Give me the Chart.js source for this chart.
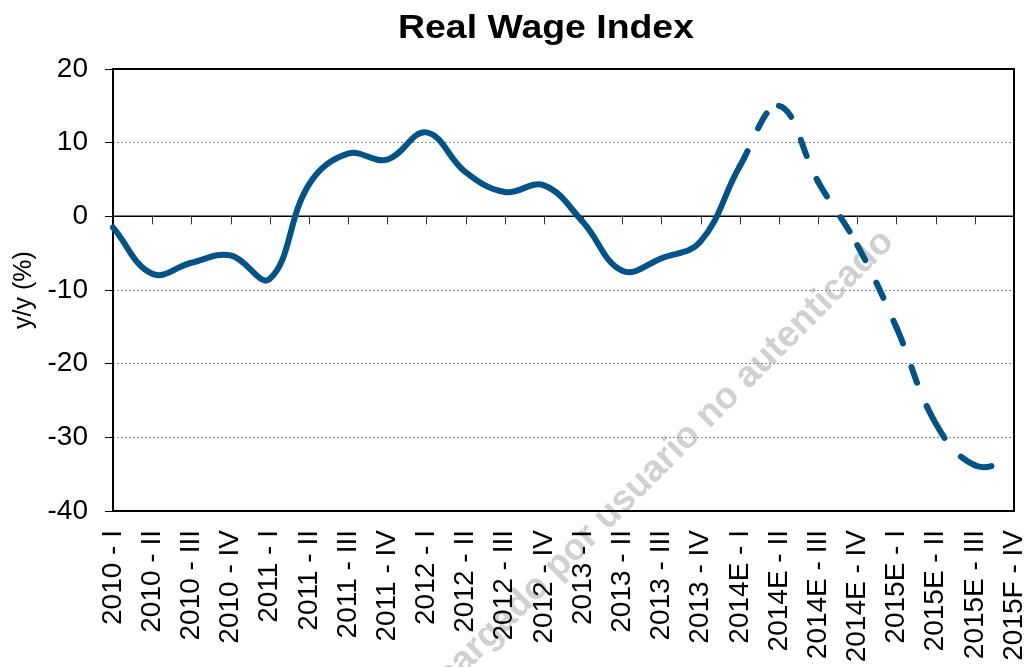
<!DOCTYPE html>
<html>
<head>
<meta charset="utf-8">
<script src="https://cdn.jsdelivr.net/npm/chart.js@4.4.1/dist/chart.umd.min.js"></script>
<style>
  body { margin: 0; background: #fff; }
  #wrap { width: 1031px; height: 667px; position: relative; }
</style>
</head>
<body>
<div id="wrap"><canvas id="chart"></canvas></div>
<script>
// Quarters on the x axis
const quarters = [
    '2010 - I', '2010 - II', '2010 - III', '2010 - IV',
    '2011 - I', '2011 - II', '2011 - III', '2011 - IV',
    '2012 - I', '2012 - II', '2012 - III', '2012 - IV',
    '2013 - I', '2013 - II', '2013 - III', '2013 - IV',
    '2014E - I', '2014E - II', '2014E - III', '2014E - IV',
    '2015E - I', '2015E - II', '2015E - III', '2015F - IV'
];

// Real wage index, y/y (%)
const realWage = [
    -1.5, -7.8, -6.3, -5.3,
    -8.5, 4.3, 8.5, 7.7,
    11.4, 6.0, 3.3, 4.2,
    -0.8, -7.4, -5.7, -3.4,
    6.8, 15.0, 4.7, -3.9,
    -15.1, -28.1, -33.8, -33.0
];

// Estimates start after this point (drawn dashed)
const firstEstimate = 16;

const yTicks = [-40, -30, -20, -10, 0, 10, 20];

const FONT = 'Liberation Sans, Arial, sans-serif';
const lineColor = '#005386';

// Watermark behind the chart
const watermarkPlugin = {
    id: 'watermark',
    beforeDraw(chart) {
        const ctx = chart.ctx;
        ctx.save();
        ctx.translate(888, 236);
        ctx.rotate(-Math.PI / 4);
        ctx.font = 'bold 37px ' + FONT;
        ctx.fillStyle = '#d0d0d0';
        ctx.textAlign = 'right';
        ctx.textBaseline = 'middle';
        ctx.fillText('Descargado por usuario no autenticado', 0, 0);
        ctx.restore();
    }
};

// Plot box, zero line and small tick marks on the zero line
const framePlugin = {
    id: 'frame',
    beforeDatasetsDraw(chart) {
        const { ctx, chartArea: a, scales: { x, y } } = chart;
        const y0 = y.getPixelForValue(0);
        ctx.save();
        ctx.strokeStyle = '#000';
        ctx.lineWidth = 1.5;
        ctx.beginPath();
        ctx.moveTo(a.left, y0);
        ctx.lineTo(a.right, y0);
        ctx.stroke();
        ctx.lineWidth = 1;
        ctx.strokeStyle = '#333';
        for (let i = 1; i < quarters.length - 1; i++) {
            const px = Math.round(x.getPixelForValue(i)) + 0.5;
            ctx.beginPath();
            ctx.moveTo(px, y0);
            ctx.lineTo(px, y0 + 8);
            ctx.stroke();
        }
        ctx.lineWidth = 2;
        ctx.strokeStyle = '#000';
        ctx.strokeRect(a.left, a.top, a.right - a.left, a.bottom - a.top);
        ctx.restore();
    },
    afterDraw(chart) {
        // Title, stretched a little to the reference width
        const ctx = chart.ctx;
        ctx.save();
        ctx.font = 'bold 33px ' + FONT;
        ctx.fillStyle = '#000';
        ctx.textAlign = 'center';
        ctx.textBaseline = 'alphabetic';
        const w = ctx.measureText('Real Wage Index').width;
        ctx.translate(546, 38);
        ctx.scale(296 / w, 1);
        ctx.fillText('Real Wage Index', 0, 0);
        ctx.restore();
    }
};

// Dash pattern restarts at every point (like the original), so each
// estimate segment gets its own tiny variation to keep it a separate path
function estimateDash(ctx) {
    if (ctx.p0DataIndex < firstEstimate) return undefined;
    return [17, 25 + ctx.p0DataIndex * 0.001];
}

new Chart(document.getElementById('chart'), {
    type: 'line',
    data: {
        labels: quarters,
        datasets: [{
            data: realWage,
            borderColor: lineColor,
            borderWidth: 6,
            borderCapStyle: 'round',
            borderJoinStyle: 'round',
            pointRadius: 0,
            tension: 0.4,
            fill: false,
            segment: { borderDash: estimateDash }
        }]
    },
    options: {
        responsive: true,
        maintainAspectRatio: false,
        animation: false,
        layout: { padding: { top: 69, right: 17, left: 0, bottom: 0 } },
        plugins: {
            legend: { display: false },
            title: { display: false },
            tooltip: { enabled: false }
        },
        scales: {
            x: {
                type: 'category',
                grid: { display: false, drawTicks: false },
                border: { display: false },
                ticks: {
                    autoSkip: false,
                    minRotation: 90,
                    maxRotation: 90,
                    padding: 19,
                    color: '#000',
                    font: { family: FONT, size: 28 }
                },
                afterFit(scale) {
                    scale.height = 156;
                    scale.paddingLeft = 0;
                    scale.paddingRight = 0;
                }
            },
            y: {
                min: -40,
                max: 20,
                afterBuildTicks(scale) { scale.ticks = yTicks.map(v => ({ value: v })); },
                grid: {
                    color: '#8a8a8a',
                    lineWidth: 1,
                    tickLength: 8,
                    tickColor: '#000',
                    tickBorderDash: []
                },
                border: { display: false, dash: [2, 2] },
                ticks: {
                    padding: 17,
                    color: '#000',
                    font: { family: FONT, size: 28 }
                },
                title: {
                    display: true,
                    text: 'y/y (%)',
                    color: '#000',
                    font: { family: FONT, size: 25 },
                    padding: { top: 9, bottom: 0 }
                },
                afterFit(scale) { scale.width = 113; }
            }
        }
    },
    plugins: [watermarkPlugin, framePlugin]
});
</script>
</body>
</html>
